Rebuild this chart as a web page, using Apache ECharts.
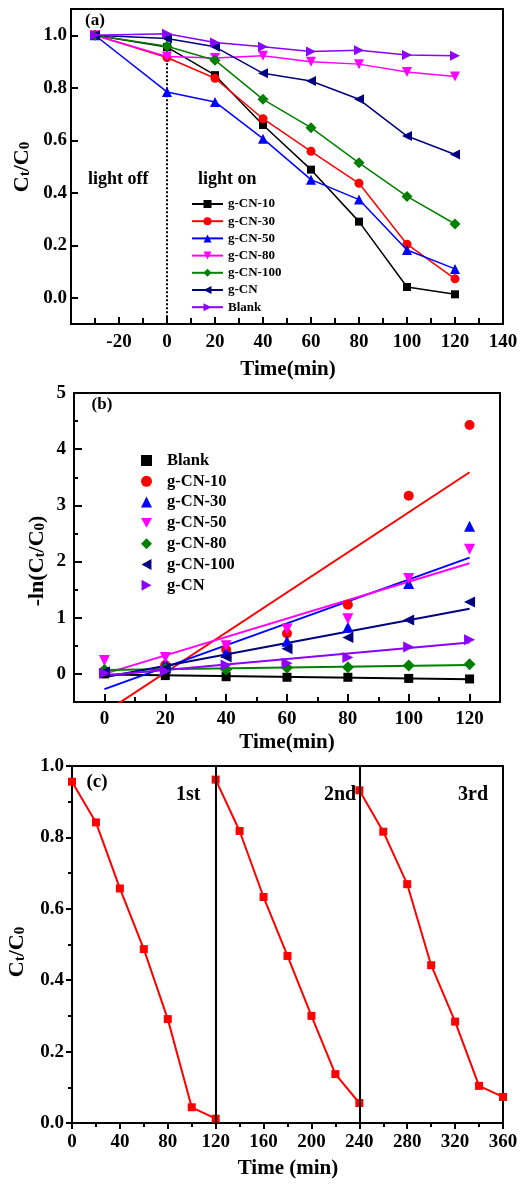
<!DOCTYPE html>
<html>
<head>
<meta charset="utf-8">
<script src="https://cdn.jsdelivr.net/npm/echarts@6/dist/echarts.min.js"></script>
<style>
html,body{margin:0;padding:0;background:#fff;}
#chart{width:530px;height:1185px;}
</style>
</head>
<body>
<div id="chart"></div>
<script>
// ---------- Panel (a): Ct/C0 vs time ----------
const aX = [-30, 0, 20, 40, 60, 80, 100, 120];
const aNames = ['g-CN-10', 'g-CN-30', 'g-CN-50', 'g-CN-80', 'g-CN-100', 'g-CN', 'Blank'];
const a_gCN10  = [1.0, 0.955, 0.848, 0.658, 0.488, 0.290, 0.041, 0.013];
const a_gCN30  = [1.0, 0.915, 0.836, 0.682, 0.558, 0.436, 0.204, 0.072];
const a_gCN50  = [1.0, 0.784, 0.746, 0.606, 0.450, 0.374, 0.182, 0.110];
const a_gCN80  = [1.0, 0.919, 0.913, 0.922, 0.899, 0.890, 0.860, 0.843];
const a_gCN100 = [1.0, 0.958, 0.905, 0.756, 0.648, 0.514, 0.386, 0.281];
const a_gCN    = [1.0, 0.988, 0.956, 0.855, 0.826, 0.756, 0.616, 0.546];
const a_blank  = [1.0, 1.006, 0.972, 0.956, 0.938, 0.943, 0.925, 0.922];
const aXTicks = [-20, 0, 20, 40, 60, 80, 100, 120, 140];
const aXMinor = [-30, -10, 10, 30, 50, 70, 90, 110, 130];
const aYTicks = [0, 0.2, 0.4, 0.6, 0.8, 1.0];

// ---------- Panel (b): -ln(Ct/C0) vs time ----------
const bX = [0, 20, 40, 60, 80, 100, 120];
const bNames = ['Blank', 'g-CN-10', 'g-CN-30', 'g-CN-50', 'g-CN-80', 'g-CN-100', 'g-CN'];
const b_blank  = [0.00, -0.03, -0.05, -0.06, -0.06, -0.08, -0.09];
const b_gCN10  = [0.05, 0.16, 0.43, 0.72, 1.23, 3.17, 4.43];
const b_gCN30  = [0.09, 0.18, 0.38, 0.58, 0.83, 1.61, 2.63];
const b_gCN50  = [0.24, 0.29, 0.50, 0.80, 0.98, 1.70, 2.22];
const b_gCN80  = [0.07, 0.09, 0.08, 0.11, 0.12, 0.15, 0.17];
const b_gCN100 = [0.04, 0.10, 0.30, 0.45, 0.65, 0.96, 1.28];
const b_gCN    = [0.01, 0.05, 0.16, 0.19, 0.29, 0.48, 0.61];
// fitted lines: values at the two ends (t = 0 and t = 120)
const fitX = [0, 120];
const fit_blank  = [-0.01, -0.095];
const fit_gCN10  = [-0.69, 3.59];
const fit_gCN30  = [-0.27, 2.07];
const fit_gCN50  = [0.00, 1.97];
const fit_gCN80  = [0.07, 0.16];
const fit_gCN100 = [-0.06, 1.16];
const fit_gCN    = [-0.03, 0.56];
const bXTicks = [0, 20, 40, 60, 80, 100, 120];
const bXMinor = [-10, 10, 30, 50, 70, 90, 110, 130];
const bYTicks = [0, 1, 2, 3, 4, 5];
const bYMinor = [0.5, 1.5, 2.5, 3.5, 4.5];

// ---------- Panel (c): recycling ----------
const cX1 = [0, 20, 40, 60, 80, 100, 120];
const c1  = [0.956, 0.842, 0.657, 0.487, 0.291, 0.044, 0.012];
const cX2 = [120, 140, 160, 180, 200, 220, 240];
const c2  = [0.962, 0.818, 0.633, 0.468, 0.300, 0.137, 0.056];
const cX3 = [240, 260, 280, 300, 320, 340, 360];
const c3  = [0.932, 0.816, 0.669, 0.442, 0.284, 0.104, 0.073];
const cCycleBounds = [120, 240];
const cCycleLabels = ['1st', '2nd', '3rd'];

const FONT = '"Liberation Serif", "Times New Roman", serif';
const pair = (xs, ys) => xs.map((x, i) => [x, ys[i]]);

const colors = {
  black: '#000000', red: '#ff0000', blue: '#0000ff', magenta: '#ff00ff',
  green: '#008000', navy: '#000080', violet: '#8b00ff'
};

const TRI_DOWN = 'path://M0,0L10,0L5,9Z';
const TRI_LEFT = 'path://M9,0L9,10L0,5Z';
const TRI_RIGHT = 'path://M0,0L0,10L9,5Z';

const aStyles = [
  {c: colors.black, s: 'rect', r: 0, sz: 8},
  {c: colors.red, s: 'circle', r: 0, sz: 9},
  {c: colors.blue, s: 'triangle', r: 0, sz: 10},
  {c: colors.magenta, s: 'triangle', r: 180, sz: 10},
  {c: colors.green, s: 'diamond', r: 0, sz: 11},
  {c: colors.navy, s: 'triangle', r: 90, sz: 10},
  {c: colors.violet, s: 'triangle', r: -90, sz: 10}
];
const aData = [a_gCN10, a_gCN30, a_gCN50, a_gCN80, a_gCN100, a_gCN, a_blank];

const bStyles = [
  {c: colors.black, s: 'rect', r: 0, sz: 9, icon: 'rect'},
  {c: colors.red, s: 'circle', r: 0, sz: 10, icon: 'circle'},
  {c: colors.blue, s: 'triangle', r: 0, sz: 11, icon: 'triangle'},
  {c: colors.magenta, s: 'triangle', r: 180, sz: 11, icon: TRI_DOWN},
  {c: colors.green, s: 'diamond', r: 0, sz: 12, icon: 'diamond'},
  {c: colors.navy, s: 'triangle', r: 90, sz: 11, icon: TRI_LEFT},
  {c: colors.violet, s: 'triangle', r: -90, sz: 11, icon: TRI_RIGHT}
];
const bData = [b_blank, b_gCN10, b_gCN30, b_gCN50, b_gCN80, b_gCN100, b_gCN];
const bFits = [fit_blank, fit_gCN10, fit_gCN30, fit_gCN50, fit_gCN80, fit_gCN100, fit_gCN];

const labelStyle = {fontSize: 19, fontWeight: 'bold', fontFamily: FONT, color: '#000'};
const lineBlack = {color: '#000', width: 2};

function mainAxis(o) {
  return Object.assign({
    type: 'value',
    splitLine: {show: false},
    axisLine: {show: true, onZero: false, lineStyle: lineBlack},
  }, o);
}
function minorAxis(o) {
  return Object.assign({
    type: 'value',
    splitLine: {show: false},
    axisLine: {show: false, onZero: false},
    axisLabel: {show: false},
  }, o);
}

const series = [];

// panel a
aData.forEach((d, i) => {
  const st = aStyles[i];
  const s = {
    name: aNames[i], type: 'line', xAxisIndex: 0, yAxisIndex: 0,
    data: pair(aX, d),
    symbol: st.s, symbolRotate: st.r, symbolSize: st.sz,
    lineStyle: {color: st.c, width: 1.5},
    itemStyle: {color: st.c},
    z: 3 + i
  };
  if (i === 0) {
    s.markLine = {
      silent: true, symbol: ['none', 'none'], label: {show: false},
      lineStyle: {type: 'dotted', color: '#000', width: 2},
      data: [[{coord: [0, 1.0]}, {coord: [0, -0.1]}]]
    };
  }
  series.push(s);
});

// panel b fits
bFits.forEach((d, i) => {
  series.push({
    name: 'fit:' + bNames[i], type: 'line', xAxisIndex: 2, yAxisIndex: 2,
    data: pair(fitX, d), showSymbol: false, symbol: 'none',
    lineStyle: {color: bStyles[i].c, width: 2}, clip: true, z: 2
  });
});
// panel b points
bData.forEach((d, i) => {
  const st = bStyles[i];
  series.push({
    name: 'b:' + bNames[i], type: 'scatter', xAxisIndex: 2, yAxisIndex: 2,
    data: pair(bX, d),
    symbol: st.s, symbolRotate: st.r, symbolSize: st.sz,
    itemStyle: {color: st.c, opacity: 1}, z: 4 + i
  });
});

// panel c
[[cX1, c1], [cX2, c2], [cX3, c3]].forEach((p, i) => {
  const s = {
    name: 'cycle' + (i + 1), type: 'line', xAxisIndex: 4, yAxisIndex: 4,
    data: pair(p[0], p[1]),
    symbol: 'rect', symbolSize: 8,
    lineStyle: {color: colors.red, width: 2},
    itemStyle: {color: colors.red}, z: 3
  };
  if (i === 0) {
    s.markLine = {
      silent: true, symbol: ['none', 'none'], label: {show: false},
      lineStyle: {type: 'solid', color: '#000', width: 2},
      data: cCycleBounds.map(v => ({xAxis: v}))
    };
  }
  series.push(s);
});

function subTitle(x, y, pre, post) {
  // Rotated axis title with subscripts
  return {
    type: 'text', x: x, y: y, rotation: Math.PI / 2,
    style: {
      text: pre, rich: post, align: 'center', verticalAlign: 'middle',
      fontFamily: FONT, fontWeight: 'bold', fill: '#000'
    }
  };
}
const richCt = (big, small, drop) => ({
  m: {fontSize: big, fontWeight: 'bold', fontFamily: FONT, fill: '#000', lineHeight: big, verticalAlign: 'top'},
  s: {fontSize: small, fontWeight: 'bold', fontFamily: FONT, fill: '#000', lineHeight: small, verticalAlign: 'bottom', padding: [drop, 0, 0, 0]}
});

function txt(x, y, text, size, align) {
  return {
    type: 'text', x: x, y: y,
    style: {text: text, fontSize: size, fontWeight: 'bold', fontFamily: FONT, fill: '#000',
      align: align || 'center', verticalAlign: 'middle'}
  };
}

const option = {
  animation: false,
  backgroundColor: '#fff',
  grid: [
    {left: 71, top: 9, width: 432, height: 315, show: true, borderColor: '#000', borderWidth: 2, backgroundColor: 'transparent', outerBoundsMode: 'none', containLabel: false},
    {left: 74, top: 393, width: 426, height: 309, show: true, borderColor: '#000', borderWidth: 2, backgroundColor: 'transparent', outerBoundsMode: 'none', containLabel: false},
    {left: 72, top: 766, width: 431, height: 357, show: true, borderColor: '#000', borderWidth: 2, backgroundColor: 'transparent', outerBoundsMode: 'none', containLabel: false}
  ],
  xAxis: [
    mainAxis({gridIndex: 0, min: -40, max: 140, position: 'bottom',
      axisTick: {show: true, inside: true, length: 7, lineStyle: lineBlack, customValues: aXTicks},
      axisLabel: Object.assign({customValues: aXTicks, margin: 9}, labelStyle)}),
    minorAxis({gridIndex: 0, min: -40, max: 140, position: 'bottom',
      axisTick: {show: true, inside: true, length: 6, lineStyle: lineBlack, customValues: aXMinor}}),
    mainAxis({gridIndex: 1, min: -10, max: 130, position: 'bottom',
      axisTick: {show: true, inside: true, length: 8, lineStyle: lineBlack, customValues: bXTicks},
      axisLabel: Object.assign({customValues: bXTicks, margin: 8}, labelStyle)}),
    minorAxis({gridIndex: 1, min: -10, max: 130, position: 'bottom',
      axisTick: {show: true, inside: true, length: 5, lineStyle: lineBlack, customValues: bXMinor}}),
    mainAxis({gridIndex: 2, min: 0, max: 360, interval: 40, position: 'bottom',
      axisTick: {show: true, inside: false, length: 6, lineStyle: lineBlack},
      minorTick: {show: true, splitNumber: 2, length: 4, lineStyle: lineBlack},
      axisLabel: Object.assign({margin: 10}, labelStyle)})
  ],
  yAxis: [
    mainAxis({gridIndex: 0, min: -0.1, max: 1.1, position: 'left',
      axisTick: {show: true, inside: true, length: 7, lineStyle: lineBlack, customValues: aYTicks},
      axisLabel: Object.assign({customValues: aYTicks, margin: 4, formatter: v => v.toFixed(1)}, labelStyle)}),
    minorAxis({gridIndex: 0, min: -0.1, max: 1.1, position: 'left', axisTick: {show: false}}),
    mainAxis({gridIndex: 1, min: -0.5, max: 5, position: 'left',
      axisTick: {show: true, inside: true, length: 8, lineStyle: lineBlack, customValues: bYTicks},
      axisLabel: Object.assign({customValues: bYTicks, margin: 8}, labelStyle)}),
    minorAxis({gridIndex: 1, min: -0.5, max: 5, position: 'left',
      axisTick: {show: true, inside: true, length: 4, lineStyle: lineBlack, customValues: bYMinor}}),
    mainAxis({gridIndex: 2, min: 0, max: 1, interval: 0.2, position: 'left',
      axisTick: {show: true, inside: false, length: 6, lineStyle: lineBlack},
      minorTick: {show: true, splitNumber: 2, length: 4, lineStyle: lineBlack},
      axisLabel: Object.assign({margin: 8, formatter: v => v.toFixed(1)}, labelStyle)})
  ],
  legend: [
    {orient: 'vertical', left: 186, top: 192, itemWidth: 31, itemHeight: 10, itemGap: 3.2,
      data: aNames, selectedMode: false,
      textStyle: {fontSize: 13, fontWeight: 'bold', fontFamily: FONT, color: '#000', lineHeight: 14}},
    {orient: 'vertical', left: 136, top: 447, itemWidth: 11, itemHeight: 11, itemGap: 3.8,
      data: bNames.map((n, i) => ({name: 'b:' + n, icon: bStyles[i].icon})), selectedMode: false,
      symbolRotate: 0,
      formatter: n => n.replace(/^b:/, ''),
      textStyle: {fontSize: 16.5, fontWeight: 'bold', fontFamily: FONT, color: '#000', lineHeight: 17, padding: [0, 0, 0, 10]}}
  ],
  graphic: [
    txt(95, 21, '(a)', 17),
    txt(88, 179, 'light off', 18, 'left'),
    txt(198, 179, 'light on', 18, 'left'),
    txt(288, 370, 'Time(min)', 21),
    subTitle(22, 167, '{m|C}{s|t}{m|/C}{s|0}', richCt(22, 15, 9)),
    txt(102, 405, '(b)', 17),
    txt(287, 743, 'Time(min)', 21),
    subTitle(37, 561, '{m|-ln(C}{s|t}{m|/C}{s|0}{m|)}', richCt(22, 15, 9)),
    txt(97, 782, '(c)', 19),
    txt(176, 795, cCycleLabels[0], 20, 'left'),
    txt(324, 795, cCycleLabels[1], 20, 'left'),
    txt(458, 795, cCycleLabels[2], 20, 'left'),
    txt(288, 1169, 'Time (min)', 21),
    subTitle(17, 952, '{m|C}{s|t}{m|/C}{s|0}', richCt(22, 15, 9))
  ],
  series: series
};

const chart = echarts.init(document.getElementById('chart'), null, {renderer: 'canvas'});
chart.setOption(option);
</script>
</body>
</html>
